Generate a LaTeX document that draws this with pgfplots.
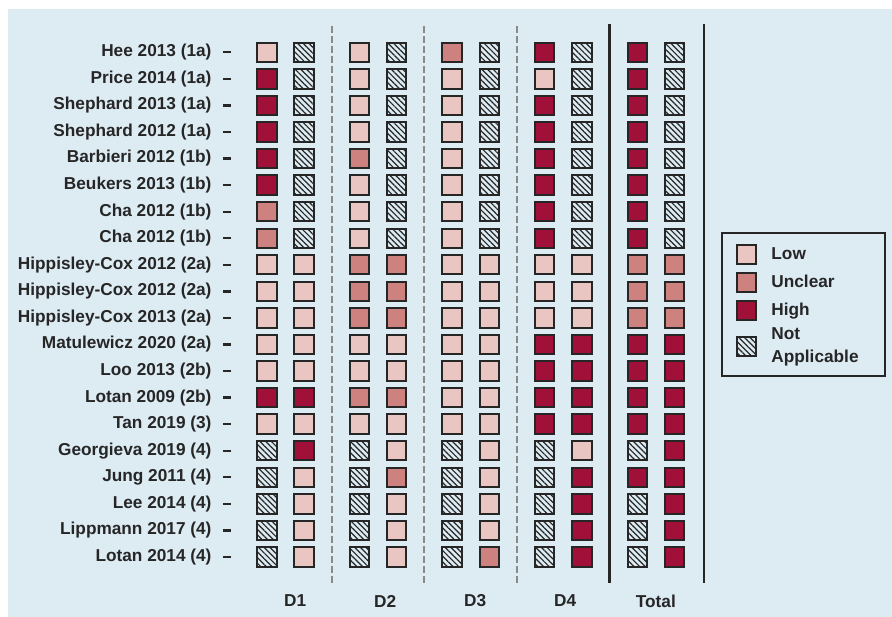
\documentclass[border=0pt]{standalone}
\usepackage{pgfplots}
\pgfplotsset{compat=1.18}
\usepackage{fontspec}
\setmainfont{Liberation Sans}
\usetikzlibrary{patterns.meta}
\definecolor{bg}{HTML}{DDEBF3}
\definecolor{lowc}{HTML}{E9C6C2}
\definecolor{uncc}{HTML}{CD8280}
\definecolor{highc}{HTML}{A11038}
\definecolor{dark}{HTML}{262626}
\definecolor{sepgray}{HTML}{8A8A8A}
\newcommand{\lblfont}{\fontsize{17.3}{20}\selectfont\bfseries}
\begin{document}
\begin{tikzpicture}[x=1bp,y=1bp]
\fill[white] (0,0) rectangle (892,617);
\fill[bg] (8,0) rectangle (892,608);
\begin{axis}[
  at={(231bp,34.3bp)}, anchor=south west,
  scale only axis, width=473bp, height=558.4bp,
  xmin=-0.973, xmax=11.8, ymin=0.032, ymax=21.054,
  axis line style={draw=none},
  clip=false,
  xtick={0.76,3.19,5.62,8.05,10.5},
  xticklabels={D1,D2,D3,D4,Total},
  xtick style={draw=none},
  xtick pos=bottom, ytick pos=left,
  ytick={1,...,20},
  yticklabels={Lotan 2014 (4), Lippmann 2017 (4), Lee 2014 (4), Jung 2011 (4), Georgieva 2019 (4), Tan 2019 (3), Lotan 2009 (2b), Loo 2013 (2b), Matulewicz 2020 (2a), Hippisley-Cox 2013 (2a), Hippisley-Cox 2012 (2a), Hippisley-Cox 2012 (2a), Cha 2012 (1b), Cha 2012 (1b), Beukers 2013 (1b), Barbieri 2012 (1b), Shephard 2012 (1a), Shephard 2013 (1a), Price 2014 (1a), Hee 2013 (1a)},
  ytick style={draw=dark, line width=2.3bp},
  tick align=outside, major tick length=8bp,
  ticklabel style={font=\lblfont, text=dark},
  yticklabel style={anchor=east, xshift=-8bp},
  xticklabel style={anchor=center, yshift=-10.3bp},
  legend style={at={(1.036,0.628)}, anchor=north west, draw=dark, line width=2bp,
    fill=none, font=\lblfont, text=dark, cells={anchor=west},
    inner xsep=15bp, inner ysep=11.5bp, column sep=13bp, row sep=8.6bp,
    nodes={text width=97bp, inner sep=2bp}},
  legend image code/.code={\draw[mark repeat=2,mark phase=2,#1] plot coordinates {(0bp,0bp) (12bp,0bp) (24bp,0bp)};},
]
% separators
\draw[sepgray, line width=2bp, dash pattern=on 7bp off 3bp] (axis cs:1.75,0.032) -- (axis cs:1.75,21.054);
\draw[sepgray, line width=2bp, dash pattern=on 7bp off 3bp] (axis cs:4.25,0.032) -- (axis cs:4.25,21.054);
\draw[sepgray, line width=2bp, dash pattern=on 7bp off 3bp] (axis cs:6.75,0.032) -- (axis cs:6.75,21.054);
\draw[dark, line width=2.5bp] (axis cs:9.25,0.032) -- (axis cs:9.25,21.054);
\draw[dark, line width=2.5bp] (axis cs:11.8,0.032) -- (axis cs:11.8,21.054);

% Low
\addplot[only marks, mark=square*, mark size=9.7bp, mark options={draw=dark, line width=2bp, fill=lowc}] coordinates {
 (0,20) (2.5,20)
 (2.5,19) (5,19) (7.5,19)
 (2.5,18) (5,18)
 (2.5,17) (5,17)
 (5,16)
 (2.5,15) (5,15)
 (2.5,14) (5,14)
 (2.5,13) (5,13)
 (0,12) (1,12) (5,12) (6,12) (7.5,12) (8.5,12)
 (0,11) (1,11) (5,11) (6,11) (7.5,11) (8.5,11)
 (0,10) (1,10) (5,10) (6,10) (7.5,10) (8.5,10)
 (0,9) (1,9) (2.5,9) (3.5,9) (5,9) (6,9)
 (0,8) (1,8) (2.5,8) (3.5,8) (5,8) (6,8)
 (5,7) (6,7)
 (0,6) (1,6) (2.5,6) (3.5,6) (5,6) (6,6)
 (3.5,5) (6,5) (8.5,5)
 (1,4) (6,4)
 (1,3) (3.5,3) (6,3)
 (1,2) (3.5,2) (6,2)
 (1,1) (3.5,1)
};
\addlegendentry{Low}
% Unclear
\addplot[only marks, mark=square*, mark size=9.7bp, mark options={draw=dark, line width=2bp, fill=uncc}] coordinates {
 (5,20)
 (2.5,16)
 (0,14) (0,13)
 (2.5,12) (3.5,12) (10,12) (11,12)
 (2.5,11) (3.5,11) (10,11) (11,11)
 (2.5,10) (3.5,10) (10,10) (11,10)
 (2.5,7) (3.5,7)
 (3.5,4)
 (6,1)
};
\addlegendentry{Unclear}
% High
\addplot[only marks, mark=square*, mark size=9.7bp, mark options={draw=dark, line width=2bp, fill=highc}] coordinates {
 (7.5,20) (10,20)
 (0,19) (10,19)
 (0,18) (7.5,18) (10,18)
 (0,17) (7.5,17) (10,17)
 (0,16) (7.5,16) (10,16)
 (0,15) (7.5,15) (10,15)
 (7.5,14) (10,14)
 (7.5,13) (10,13)
 (7.5,9) (8.5,9) (10,9) (11,9)
 (7.5,8) (8.5,8) (10,8) (11,8)
 (0,7) (1,7) (7.5,7) (8.5,7) (10,7) (11,7)
 (7.5,6) (8.5,6) (10,6) (11,6)
 (1,5) (11,5)
 (8.5,4) (10,4) (11,4)
 (8.5,3) (11,3)
 (8.5,2) (11,2)
 (8.5,1) (11,1)
};
\addlegendentry{High}
% Not applicable
\addplot[only marks, mark=square*, mark size=9.7bp, mark options={draw=dark, line width=2bp, pattern={Lines[angle=-45,distance=4bp,line width=1.2bp]}, pattern color=dark}] coordinates {
 (1,20) (3.5,20) (6,20) (8.5,20) (11,20)
 (1,19) (3.5,19) (6,19) (8.5,19) (11,19)
 (1,18) (3.5,18) (6,18) (8.5,18) (11,18)
 (1,17) (3.5,17) (6,17) (8.5,17) (11,17)
 (1,16) (3.5,16) (6,16) (8.5,16) (11,16)
 (1,15) (3.5,15) (6,15) (8.5,15) (11,15)
 (1,14) (3.5,14) (6,14) (8.5,14) (11,14)
 (1,13) (3.5,13) (6,13) (8.5,13) (11,13)
 (0,5) (2.5,5) (5,5) (7.5,5) (10,5)
 (0,4) (2.5,4) (5,4) (7.5,4)
 (0,3) (2.5,3) (5,3) (7.5,3) (10,3)
 (0,2) (2.5,2) (5,2) (7.5,2) (10,2)
 (0,1) (2.5,1) (5,1) (7.5,1) (10,1)
};
\addlegendentry{\raisebox{-1.6bp}[30.8bp][0pt]{\renewcommand{\arraystretch}{1.15}\begin{tabular}[b]{@{}l@{}}Not\\Applicable\end{tabular}}}
\end{axis}
\end{tikzpicture}
\end{document}
